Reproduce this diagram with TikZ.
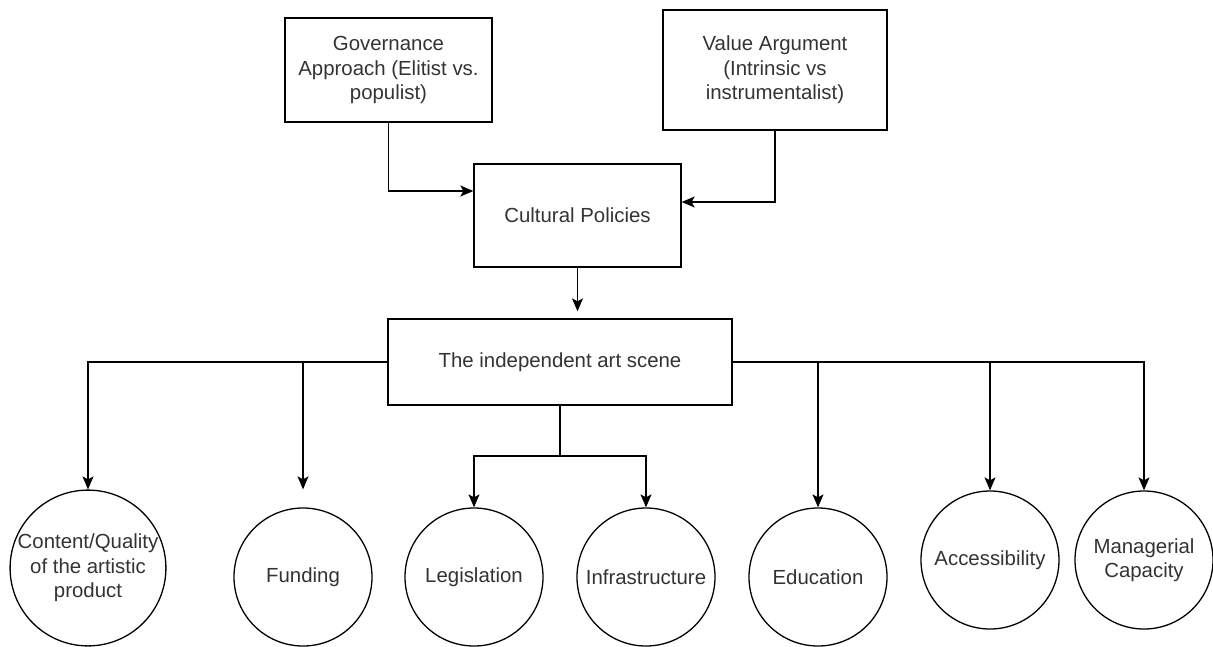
\documentclass[tikz,border=0pt]{standalone}
\usepackage{fontspec}
\setmainfont{Liberation Sans}
\usetikzlibrary{arrows.meta}
\definecolor{txtgray}{HTML}{333333}
\begin{document}
\begin{tikzpicture}[x=1pt,y=-1pt,
  every node/.style={font=\fontsize{20.4}{24.5}\selectfont, text=txtgray, align=center, inner sep=0pt},
  boxnode/.style={draw=black, line width=1.3pt, rectangle},
  circnode/.style={draw=black, line width=1.3pt, circle, minimum size=138pt},
  conn/.style={draw=black, line width=1.3pt},
  arr/.style={conn, -{Stealth[length=13pt,width=11pt,inset=3pt]}}]
\useasboundingbox (0,0) rectangle (1213,646);
% boxes
\node[boxnode, minimum width=207pt, minimum height=104pt] (gov) at (388.5,70) {\raisebox{-2pt}{\parbox{200pt}{\centering Governance\\Approach (Elitist vs.\\populist)}}};
\node[boxnode, minimum width=224pt, minimum height=120pt] (val) at (775,70) {\raisebox{-2pt}{\parbox{210pt}{\centering Value Argument\\(Intrinsic vs\\instrumentalist)}}};
\node[boxnode, minimum width=207pt, minimum height=103pt] (cul) at (577.5,215.5) {Cultural Policies};
\node[boxnode, minimum width=344pt, minimum height=86pt] (art) at (560,362) {The independent art scene};
% circles
\node[circnode, minimum size=154pt] (c1) at (88,568) {Content/Quality\\of the artistic\\product};
\node[circnode] (c2) at (303,577) {Funding};
\node[circnode] (c3) at (474,577) {Legislation};
\node[circnode] (c4) at (646,577) {Infrastructure};
\node[circnode] (c5) at (818,577) {Education};
\node[circnode] (c6) at (990,560) {Accessibility};
\node[circnode] (c7) at (1144,560) {Managerial\\Capacity};
% connectors
\draw[arr] (gov.south) |- ([yshift=24.5pt]cul.west);
\draw[arr] (val.south) |- ([yshift=13.5pt]cul.east);
\draw[arr, shorten >=7pt] (cul.south) -- (cul.south |- art.north);
\draw[arr] (art.west) -| (c1.north);
\draw[arr] (art.west) -| ([yshift=18pt]c2.north);
\coordinate (jn) at (560,456);
\draw[conn] (art.south) -- (jn);
\draw[arr] (jn) -| (c3.north);
\draw[arr] (jn) -| (c4.north);
\draw[arr] (art.east) -| (c5.north);
\draw[arr] (art.east) -| (c6.north);
\draw[arr] (art.east) -| (c7.north);
\end{tikzpicture}
\end{document}
